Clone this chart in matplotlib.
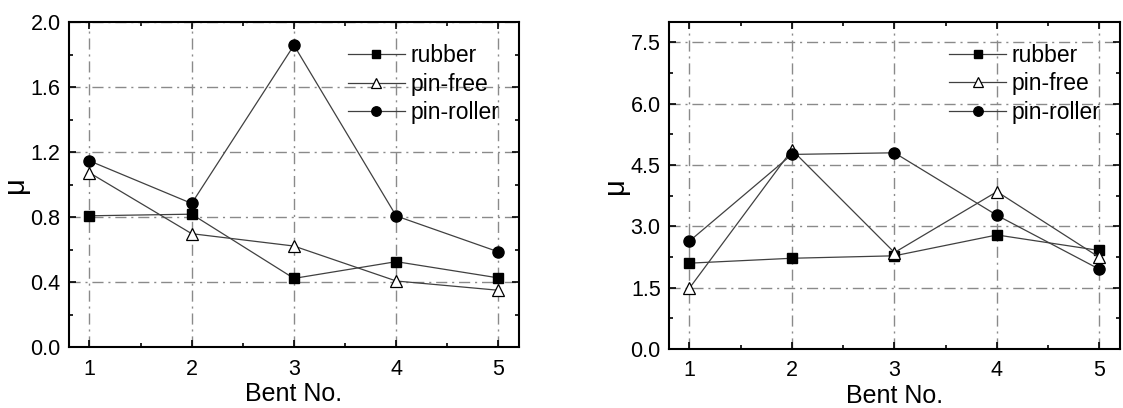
import matplotlib
matplotlib.use("Agg")
import matplotlib.pyplot as plt
from matplotlib.ticker import MultipleLocator, FormatStrFormatter

plt.rcParams['font.family'] = ['Liberation Sans', 'DejaVu Sans']

bent = [1, 2, 3, 4, 5]
xticks = [1, 2, 3, 4, 5]

# Left panel
rubber_a = [0.81, 0.82, 0.425, 0.528, 0.428]
pinfree_a = [1.075, 0.70, 0.624, 0.409, 0.352]
pinroller_a = [1.148, 0.886, 1.859, 0.809, 0.588]

# Right panel
rubber_b = [2.10, 2.22, 2.28, 2.79, 2.41]
pinfree_b = [1.49, 4.87, 2.36, 3.85, 2.24]
pinroller_b = [2.64, 4.76, 4.80, 3.27, 1.95]

labels = ['rubber', 'pin-free', 'pin-roller']

fig = plt.figure(figsize=(11.23, 4.08), dpi=100)
ax1 = fig.add_axes([0.0614, 0.1483, 0.4007, 0.797])
ax2 = fig.add_axes([0.5957, 0.1446, 0.4016, 0.8015])

line_c = '#404040'
grid_c = '#8a8a8a'

def draw(ax, r, pf, pr, ylim, ymaj, ymin, lx):
    ax.plot(bent, r, color=line_c, lw=0.9, marker='s', ms=7.5,
            mfc='black', mec='black', label=labels[0], zorder=3)
    ax.plot(bent, pf, color=line_c, lw=0.9, marker='^', ms=9,
            mfc='white', mec='black', mew=0.9, label=labels[1], zorder=3)
    ax.plot(bent, pr, color=line_c, lw=0.9, marker='o', ms=8,
            mfc='black', mec='black', label=labels[2], zorder=3)
    ax.set_xlim(0.8, 5.2)
    ax.set_ylim(*ylim)
    ax.set_xticks(xticks)
    ax.xaxis.set_minor_locator(MultipleLocator(0.5))
    ax.yaxis.set_major_locator(MultipleLocator(ymaj))
    ax.yaxis.set_minor_locator(MultipleLocator(ymin))
    ax.yaxis.set_major_formatter(FormatStrFormatter('%.1f'))
    ax.grid(True, which='major', color=grid_c, ls=(0, (8, 3.5, 1.5, 3.5)), lw=1.0)
    ax.tick_params(which='both', direction='in', top=True, right=True,
                   labelsize=15.5, width=1.2)
    ax.tick_params(which='major', length=5, pad=6)
    ax.tick_params(axis='x', which='major', pad=8)
    ax.tick_params(which='minor', length=3)
    for s in ax.spines.values():
        s.set_linewidth(1.5)
    ax.set_xlabel('Bent No.', fontsize=18, labelpad=2)
    ax.set_ylabel('μ', fontsize=21, labelpad=lx)
    ax.legend(loc='upper right', frameon=False, fontsize=16.5,
              handlelength=2.5, handletextpad=0.25, labelspacing=0.24,
              borderaxespad=0.3, markerscale=0.85,
              bbox_to_anchor=(0.993, 0.982))

draw(ax1, rubber_a, pinfree_a, pinroller_a, (0, 2.0), 0.4, 0.2, 1)
draw(ax2, rubber_b, pinfree_b, pinroller_b, (0, 8.0), 1.5, 0.75, 1)

fig.savefig('out.png', dpi=100)
